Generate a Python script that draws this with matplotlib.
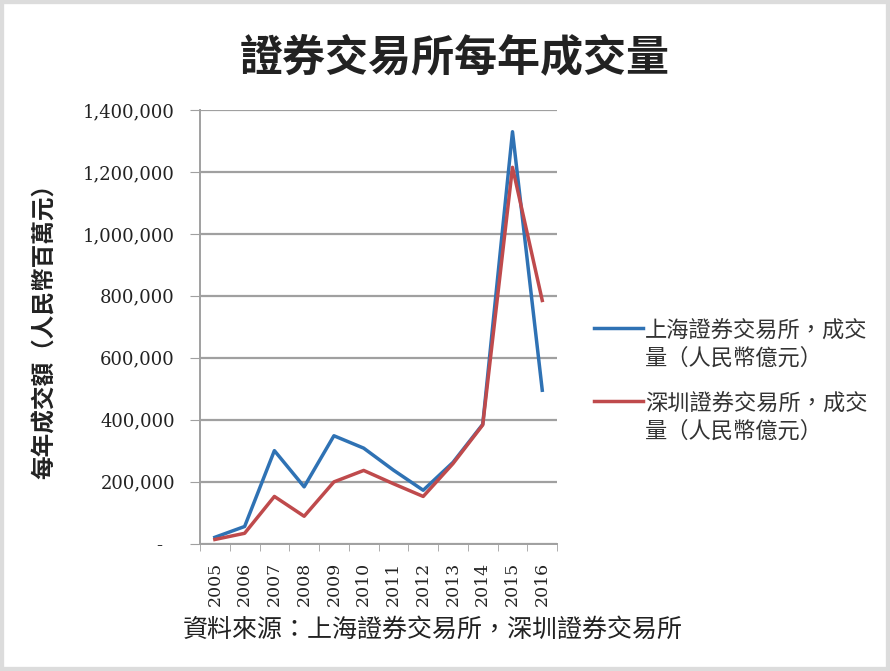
"""
Yearly turnover of the Shanghai and Shenzhen stock exchanges, 2005-2016.
"""

import matplotlib
matplotlib.use("Agg")
import matplotlib.pyplot as plt
from matplotlib.ticker import FuncFormatter, MultipleLocator
from matplotlib.patches import Rectangle

plt.rcParams["font.family"] = ["Noto Sans CJK TC", "DejaVu Sans"]

years = ["2005", "2006", "2007", "2008", "2009", "2010",
         "2011", "2012", "2013", "2014", "2015", "2016"]
shanghai = [20000, 55000, 300000, 183000, 348000, 308000,
            237000, 172000, 262000, 385000, 1330000, 495000]
shenzhen = [13000, 33000, 152000, 88000, 199000, 236000,
            193000, 152000, 258000, 383000, 1215000, 785000]

title = "證券交易所每年成交量"
y_label = "每年成交額（人民幣百萬元）"
legend_labels = ["上海證券交易所，成交\n量（人民幣億元）",
                 "深圳證券交易所，成交\n量（人民幣億元）"]
source = "資料來源：上海證券交易所，深圳證券交易所"

blue = "#2f72b4"
red = "#bf4a4c"
grid_grey = "#a0a0a0"

fig = plt.figure(figsize=(8.9, 6.71), dpi=100)
fig.patch.set_facecolor("white")
fig.patches.append(Rectangle((0, 0), 1, 1, transform=fig.transFigure,
                             fill=False, edgecolor="#dcdcdc", linewidth=6))

ax = fig.add_axes([0.2247, 0.19, 0.4013, 0.646])
x = range(len(years))
l1, = ax.plot(x, shanghai, color=blue, linewidth=2.5, solid_joinstyle="round")
l2, = ax.plot(x, shenzhen, color=red, linewidth=2.5, solid_joinstyle="round")

ax.set_xlim(-0.5, len(years) - 0.5)
ax.set_ylim(0, 1400000)
ax.yaxis.set_major_locator(MultipleLocator(200000))
ax.yaxis.set_major_formatter(
    FuncFormatter(lambda v, p: "-  " if v == 0 else f"{v:,.0f}"))
ax.grid(axis="y", color=grid_grey, linewidth=1.6)
ax.set_axisbelow(True)

ax.set_xticks(list(x))
ax.set_xticklabels(years, rotation=90, family="DejaVu Serif", fontsize=12.5,
                   color="#222222")
ax.set_xticks([i - 0.5 for i in range(len(years) + 1)], minor=True)
ax.tick_params(axis="x", which="major", length=0, pad=13)
ax.tick_params(axis="x", which="minor", length=5, color=grid_grey)
ax.tick_params(axis="y", length=7, color=grid_grey, pad=11)
for lab in ax.get_yticklabels():
    lab.set_family("DejaVu Serif")
    lab.set_fontsize(13)
    lab.set_color("#222222")

for side in ["top", "right"]:
    ax.spines[side].set_visible(False)
for side in ["left", "bottom"]:
    ax.spines[side].set_color(grid_grey)
    ax.spines[side].set_linewidth(1.4)

fig.text(0.511, 0.915, title, fontsize=31, fontweight="bold",
         ha="center", va="center", color="#222222")
fig.text(0.05, 0.515, y_label, fontsize=17, fontweight="bold", rotation=90,
         ha="center", va="center", color="#222222")
fig.text(0.205, 0.062, source, fontsize=18, ha="left", va="center",
         color="#222222")

leg = fig.legend([l1, l2], legend_labels, loc="upper left",
                 bbox_to_anchor=(0.645, 0.553), frameon=False, fontsize=16,
                 handlelength=2.2, handletextpad=0.1, labelspacing=1.05,
                 labelcolor="#333333")
# put each legend line level with the first line of its two-line label
for column in leg._legend_handle_box.get_children():
    for row in column.get_children():
        row.align = "top"

fig.savefig("out.png", dpi=100, facecolor="white")
